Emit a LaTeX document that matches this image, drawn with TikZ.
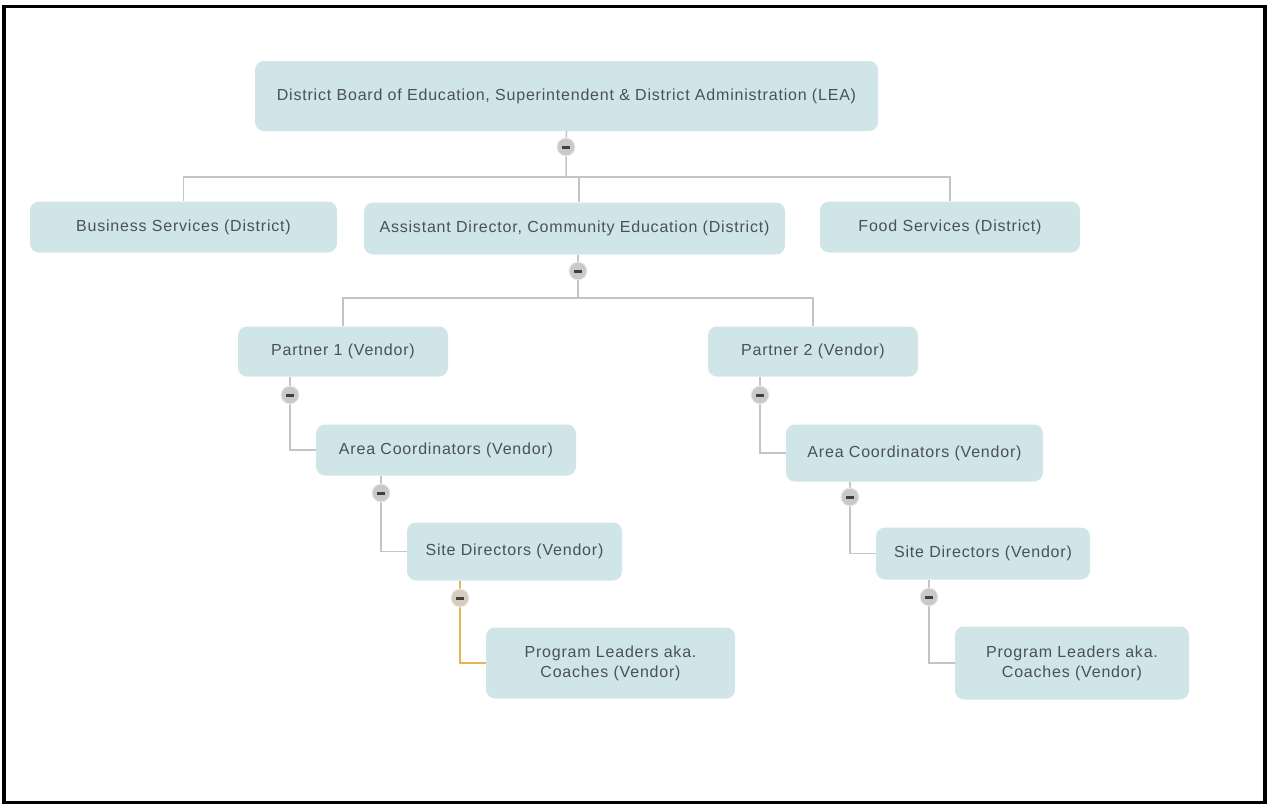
\documentclass[tikz,border=0pt]{standalone}
\usepackage{fontspec}
\setmainfont[LetterSpace=5]{Liberation Sans}
\usetikzlibrary{backgrounds}
\definecolor{boxfill}{HTML}{CFE5E8}
\definecolor{txt}{HTML}{4A5254}
\definecolor{linec}{HTML}{C4C4C4}
\definecolor{orangec}{HTML}{E8B45A}
\definecolor{togfill}{HTML}{C9C9C9}
\definecolor{togfillo}{HTML}{D6CCBC}
\newcommand{\minusmark}{\textcolor{black!75}{\rule[-1pt]{8pt}{3pt}}}
\tikzset{
  box/.style={rounded corners=9pt, fill=boxfill, text=txt, align=center, inner sep=0pt,
    font=\fontsize{16}{20}\selectfont},
  conn/.style={draw=linec, line width=1.5pt},
  toggle/.style={circle, minimum size=18pt, inner sep=0pt, fill=togfill, draw=gray!15, line width=1pt},
}
\begin{document}
\begin{tikzpicture}[x=1pt,y=-1pt]
\useasboundingbox (0,0) rectangle (1267,804);
\draw[line width=3.5pt] (4,6.5) rectangle (1265,802.5);
% boxes
\node[box, minimum width=623pt, minimum height=70pt] (top) at (566.5,96) {District Board of Education, Superintendent \& District Administration (LEA)};
\node[box, minimum width=307pt, minimum height=51pt] (bus) at (183.5,227) {Business Services (District)};
\node[box, minimum width=421pt, minimum height=52pt] (asst) at (574.5,228.5) {Assistant Director, Community Education (District)};
\node[box, minimum width=260pt, minimum height=51pt] (food) at (950,227) {Food Services (District)};
\node[box, minimum width=210pt, minimum height=50pt] (p1) at (343,351.5) {Partner 1 (Vendor)};
\node[box, minimum width=210pt, minimum height=50pt] (p2) at (813,351.5) {Partner 2 (Vendor)};
\node[box, minimum width=260pt, minimum height=51pt] (ac1) at (446,450) {Area Coordinators (Vendor)};
\node[box, minimum width=257pt, minimum height=57pt] (ac2) at (914.5,453) {Area Coordinators (Vendor)};
\node[box, minimum width=215pt, minimum height=58pt] (sd1) at (514.5,551.5) {Site Directors (Vendor)};
\node[box, minimum width=214pt, minimum height=52pt] (sd2) at (983,553.5) {Site Directors (Vendor)};
\node[box, minimum width=249pt, minimum height=71pt] (pl1) at (610.5,663) {Program Leaders aka.\\Coaches (Vendor)};
\node[box, minimum width=234pt, minimum height=73pt] (pl2) at (1072,663) {Program Leaders aka.\\Coaches (Vendor)};
% toggles
\node[toggle] (c0) at (566,147) {\minusmark};
\node[toggle] (c1) at (578,271) {\minusmark};
\node[toggle] (c2) at (290,395) {\minusmark};
\node[toggle] (c3) at (381,493) {\minusmark};
\node[toggle, fill=togfillo] (c4) at (460,598) {\minusmark};
\node[toggle] (c5) at (760,395) {\minusmark};
\node[toggle] (c6) at (850,497) {\minusmark};
\node[toggle] (c7) at (929,597) {\minusmark};
\coordinate (j0) at (566,177);
\coordinate (j1) at (578,298);
\coordinate (a0) at (579,202);
\begin{pgfonlayer}{background}
\draw[conn] (top.south) -- (j0);
\draw[conn] (j0) -| (bus.north);
\draw[conn] (j0) -| (food.north);
\draw[conn] (j0) -| (a0);
\draw[conn] (asst.south -| c1) -- (j1);
\draw[conn] (j1) -| (p1.north);
\draw[conn] (j1) -| (p2.north);
\draw[conn] (p1.south -| c2) -- (c2.center) |- (ac1.west);
\draw[conn] (ac1.south -| c3) -- (c3.center) |- (sd1.west);
\draw[conn, draw=orangec] (sd1.south -| c4) -- (c4.center) |- (pl1.west);
\draw[conn] (p2.south -| c5) -- (c5.center) |- (ac2.west);
\draw[conn] (ac2.south -| c6) -- (c6.center) |- (sd2.west);
\draw[conn] (sd2.south -| c7) -- (c7.center) |- (pl2.west);
\end{pgfonlayer}
\end{tikzpicture}
\end{document}
